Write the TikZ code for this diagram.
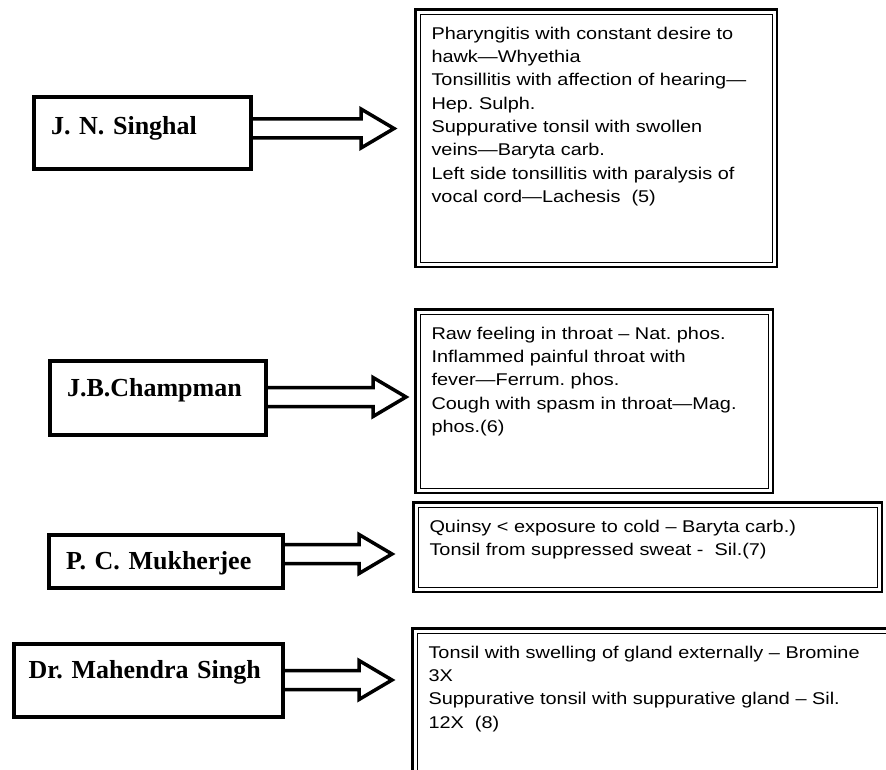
\documentclass[tikz,border=0pt]{standalone}
\usepackage{fontspec}
\usetikzlibrary{calc}
\newfontfamily\namefont{Liberation Serif}
\newfontfamily\notefont[FakeStretch=1.17]{Liberation Sans}
\newcommand{\notes}[3]{\parbox[c][#1][t]{#2}{\raggedright\strut #3}}
\newcommand{\hollowarrow}[2]{\draw[hollow] ($(#1.east |- #2)+(0,9.5)$) -- ($(#2)+(-33,9.5)$) -- ($(#2)+(-33,19.5)$) -- (#2) -- ($(#2)+(-33,-19.5)$) -- ($(#2)+(-33,-9.5)$) -- ($(#1.east |- #2)+(0,-9.5)$);}
\tikzset{
	namebox/.style={draw, line width=4pt, align=left, inner xsep=17pt, inner ysep=4pt, text height=18pt, text depth=6pt, font=\namefont\bfseries\fontsize{26}{30}\selectfont},
	notebox/.style={draw, line width=2.5pt, anchor=north west, inner xsep=16pt, inner ysep=13.5pt, font=\notefont\fontsize{17}{23.3}\selectfont},
	hollow/.style={line width=3.5pt, line join=miter}
}
\frenchspacing

\begin{document}
\begin{tikzpicture}[x=1pt, y=1pt]
			%%%%% START %%%%%
			
			\clip (0,0) rectangle (886,-770);
			
			\node[namebox, text width=183pt, minimum height=72pt, text depth=14pt] (singhal) at (142.5,-133) {J. N. Singhal};
			\node[namebox, text width=182pt, minimum height=74pt, text depth=22pt] (champman) at (158,-398) {J.B.Champman};
			\node[namebox, text width=200pt, minimum height=53pt, text depth=3pt] (mukherjee) at (166,-561.5) {P. C. Mukherjee};
			\node[namebox, text width=240pt, inner xsep=14.5pt, minimum height=73pt, text depth=23pt] (mahendra) at (148.5,-680.5) {Dr. Mahendra Singh};
			
			\node[notebox] (hawk) at (414.25,-8.25) {\notes{230.5pt}{329.5pt}{Pharyngitis with constant desire to\\
				hawk—Whyethia\\
				Tonsillitis with affection of hearing—\\
				Hep. Sulph.\\
				Suppurative tonsil with swollen\\
				veins—Baryta carb.\\
				Left side tonsillitis with paralysis of\\
				vocal cord—Lachesis\ \ (5)}};
			\node[notebox] (rawthroat) at (414.25,-308.25) {\notes{156.5pt}{325.5pt}{Raw feeling in throat – Nat. phos.\\
				Inflammed painful throat with\\
				fever—Ferrum. phos.\\
				Cough with spasm in throat—Mag.\\
				phos.(6)}};
			\node[notebox] (quinsy) at (412.25,-501.25) {\notes{62.5pt}{436.5pt}{Quinsy < exposure to cold – Baryta carb.)\\
				Tonsil from suppressed sweat -\ \ Sil.(7)}};
			\node[notebox] (swelling) at (411.25,-627.25) {\notes{135.75pt}{456.75pt}{Tonsil with swelling of gland externally – Bromine\\
				3X\\
				Suppurative tonsil with suppurative gland – Sil.\\
				12X\ \ (8)}};
			
			\foreach \nb in {hawk,rawthroat,quinsy,swelling}
				\draw[line width=1.3pt] ([shift={(6,-6)}]\nb.north west) rectangle ([shift={(-6,6)}]\nb.south east);
			
			\coordinate (tip1) at (394,-128.5);
			\coordinate (tip2) at (406,-397);
			\coordinate (tip3) at (392,-554);
			\coordinate (tip4) at (392,-680);
			
			\hollowarrow{singhal}{tip1}
			\hollowarrow{champman}{tip2}
			\hollowarrow{mukherjee}{tip3}
			\hollowarrow{mahendra}{tip4}
			
			%%%%% END %%%%%
\end{tikzpicture}
\end{document}
